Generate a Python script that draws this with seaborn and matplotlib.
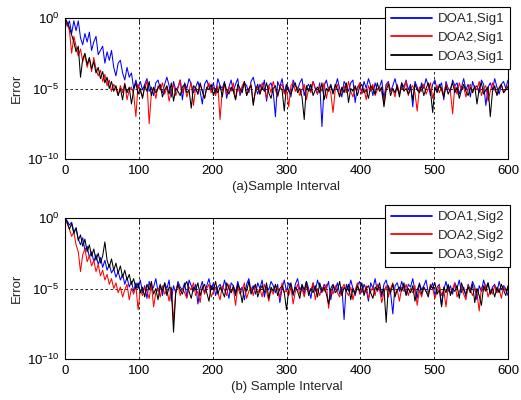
import numpy as np
import pandas as pd
import seaborn as sns
import matplotlib.pyplot as plt
from matplotlib.ticker import NullLocator

sns.set_style("white")
plt.rcParams['font.family'] = ['Liberation Sans', 'DejaVu Sans']
plt.rcParams['mathtext.fontset'] = 'custom'
plt.rcParams['mathtext.rm'] = 'Liberation Sans'
plt.rcParams['mathtext.it'] = 'Liberation Sans:italic'

# sample index (every 3rd sample)
samples = np.arange(0, 601, 3)

# log10(error) in tenths of a decade, panel (a)
doa1_sig1 = [0, -6, -2, -11, -2, -9, -2, -14, -19, -11, -17, -10, -23, -17, -13, -26, -23, -20, -32, -24,
             -30, -23, -35, -41, -32, -30, -39, -44, -35, -42, -39, -50, -44, -50,
             -45, -51, -47, -43, -52, -49, -55, -46, -44, -50,
             -53, -47, -42, -48, -56, -45, -51, -49, -44, -58,
             -46, -50, -43, -47, -53, -49, -45, -52, -61, -47,
             -44, -49, -51, -46, -54, -43, -48, -50, -45, -57,
             -49, -44, -52, -47, -43, -55, -50, -46, -48, -53,
             -45, -42, -49, -54, -47, -51, -44, -59, -48, -46,
             -52, -70, -45, -49, -43, -53, -47, -50, -56, -44,
             -48, -51, -46, -43, -55, -49, -47, -52, -45, -50,
             -54, -46, -77, -48, -44, -51, -47, -53, -49, -43,
             -50, -56, -45, -48, -52, -46, -44, -60, -49, -47,
             -53, -45, -50, -43, -48, -55, -46, -51, -49, -44,
             -57, -47, -45, -52, -48, -43, -50, -54, -46, -49,
             -44, -51, -47, -63, -45, -49, -53, -46, -50, -43,
             -48, -55, -47, -44, -51, -49, -46, -58, -45, -50,
             -52, -44, -48, -46, -54, -49, -43, -51, -47, -56,
             -45, -50, -48, -53, -44, -47, -62, -49, -46, -51,
             -43, -49, -54, -47, -45, -50, -44]
doa2_sig1 = [-1, -4, -9, -25, -13, -20, -27, -22, -31, -26, -35, -29, -38, -28, -36, -41, -37, -45, -40, -48,
             -44, -52, -47,
             -50, -55, -48, -53, -46, -58, -51, -49, -54, -70,
             -47, -52, -56, -49, -45, -75, -53, -50, -57, -48,
             -51, -46, -54, -49, -59, -52, -47, -55, -50, -44,
             -53, -48, -56, -51, -46, -62, -49, -54, -47, -52,
             -57, -50, -46, -53, -49, -55, -48, -72, -51, -47,
             -54, -49, -52, -46, -58, -50, -53, -48, -45, -55,
             -51, -47, -60, -52, -49, -54, -46, -50, -57, -48,
             -53, -45, -51, -56, -49, -47, -54, -50, -63, -48,
             -46, -52, -49, -55, -51, -47, -58, -50, -53, -45,
             -50, -54, -48, -52, -46, -57, -49, -53, -67, -51,
             -47, -55, -50, -48, -53, -45, -52, -56, -49, -51,
             -46, -54, -50, -58, -48, -52, -47, -55, -51, -49,
             -53, -61, -48, -46, -52, -50, -56, -47, -54, -49,
             -51, -45, -55, -50, -48, -53, -66, -49, -52, -47,
             -54, -50, -46, -57, -51, -48, -53, -49, -55, -47,
             -50, -52, -68, -48, -54, -46, -51, -49, -56, -50,
             -47, -53, -49, -51, -45, -55, -50, -48, -59, -52,
             -46, -51, -54, -49, -47, -53, -50, -48]
doa3_sig1 = [0, -3, -7, -12, -17, -24, -20, -42, -29, -25, -33, -28, -36, -31, -39, -35, -43, -38, -46, -42,
             -50, -45,
             -52, -48, -55, -50, -58, -47, -53, -49, -61, -51,
             -46, -54, -50, -57, -48, -52, -45, -55, -49, -53,
             -50, -47, -56, -51, -48, -54, -46, -59, -50, -52,
             -55, -49, -47, -53, -51, -64, -48, -50, -54, -46,
             -52, -57, -49, -51, -47, -55, -50, -53, -48, -56,
             -46, -51, -54, -49, -52, -58, -47, -50, -53, -45,
             -55, -50, -48, -62, -51, -47, -54, -49, -52, -46,
             -53, -57, -50, -48, -55, -49, -51, -66, -47, -52,
             -54, -49, -46, -53, -50, -56, -72, -48, -52, -47,
             -55, -51, -49, -53, -46, -58, -50, -52, -48, -54,
             -47, -51, -56, -49, -53, -46, -60, -50, -52, -48,
             -55, -49, -47, -53, -51, -57, -48, -50, -54, -46,
             -52, -49, -63, -51, -47, -55, -50, -53, -48, -56,
             -46, -52, -50, -54, -49, -58, -47, -51, -53, -48,
             -55, -50, -46, -52, -67, -49, -53, -47, -51, -56,
             -48, -54, -50, -46, -53, -49, -57, -51, -47, -52,
             -55, -49, -53, -48, -61, -50, -46, -54, -51, -49,
             -70, -52, -48, -55, -50, -47, -53, -51, -49]

# log10(error) in tenths of a decade, panel (b)
doa1_sig2 = [0, -2, -5, -3, -10, -7, -15, -19, -14, -23, -20, -28, -24, -31, -26, -33, -28, -35, -30, -37,
             -33, -39, -36, -42, -38, -44, -40, -47, -42, -49, -45, -52,
             -46, -50, -44, -53, -48, -57, -45, -51, -49, -43,
             -52, -47, -55, -46, -50, -44, -59, -48, -53, -45,
             -49, -51, -46, -56, -44, -48, -52, -47, -61, -50,
             -45, -53, -48, -43, -51, -46, -55, -49, -47, -52,
             -44, -50, -57, -46, -48, -53, -45, -51, -49, -58,
             -47, -43, -52, -48, -54, -46, -50, -44, -56, -49,
             -51, -45, -48, -53, -47, -60, -50, -44, -52, -46,
             -49, -55, -47, -43, -51, -48, -54, -45, -50, -57,
             -46, -52, -44, -49, -53, -47, -50, -45, -58, -48,
             -51, -46, -54, -49, -72, -47, -52, -44, -50, -55,
             -48, -45, -53, -47, -51, -59, -46, -50, -43, -52,
             -49, -56, -47, -44, -51, -53, -68, -48, -46, -52,
             -45, -50, -54, -47, -49, -43, -52, -57, -46, -51,
             -48, -44, -53, -50, -46, -55, -49, -47, -62, -51,
             -45, -52, -48, -54, -46, -50, -44, -53, -49, -56,
             -47, -51, -45, -49, -58, -48, -52, -44, -50, -46,
             -54, -49, -47, -53, -45, -51, -48, -50, -55]
doa2_sig2 = [-1, -4, -8, -13, -10, -19, -24, -38, -26, -22, -31, -27, -34, -30, -38, -33, -41, -37, -44, -40,
             -47, -43, -50, -46,
             -53, -49, -56, -51, -47, -58, -50, -54, -48, -65,
             -51, -55, -49, -52, -57, -47, -63, -53, -50, -56,
             -48, -54, -51, -59, -49, -73, -52, -47, -55, -50,
             -53, -57, -49, -51, -46, -55, -52, -60, -48, -54,
             -50, -47, -56, -52, -49, -53, -58, -48, -51, -55,
             -47, -53, -50, -62, -49, -54, -51, -46, -57, -52,
             -49, -55, -48, -53, -50, -56, -47, -52, -59, -51,
             -54, -48, -50, -57, -46, -53, -51, -55, -49, -61,
             -52, -47, -54, -50, -56, -48, -53, -51, -46, -58,
             -50, -55, -49, -52, -47, -64, -51, -54, -48, -53,
             -56, -50, -47, -52, -55, -49, -58, -51, -46, -54,
             -50, -53, -48, -57, -52, -49, -55, -47, -51, -60,
             -53, -48, -56, -50, -46, -54, -51, -59, -49, -52,
             -47, -55, -50, -53, -48, -62, -51, -56, -49, -52,
             -54, -47, -50, -57, -52, -48, -55, -51, -63, -49,
             -53, -50, -46, -56, -52, -49, -54, -58, -48, -51,
             -55, -50, -53, -66, -49, -52, -47, -56, -51, -54,
             -48, -53, -50, -57, -49, -52, -51]
doa3_sig2 = [0, -3, -8, -4, -11, -7, -16, -12, -20, -15, -24, -19, -27, -22, -30, -25, -32, -27, -17, -30,
             -35, -29, -37, -32, -39, -34, -42, -37, -44, -40, -47, -43, -50,
             -46, -53, -49, -56, -47, -51, -45, -54, -50, -58,
             -48, -52, -46, -55, -49, -50, -81, -53, -47, -51,
             -54, -48, -45, -52, -57, -49, -51, -46, -55, -50,
             -47, -53, -59, -48, -51, -45, -54, -49, -52, -56,
             -46, -50, -53, -48, -55, -47, -51, -60, -49, -52,
             -45, -54, -50, -47, -56, -51, -48, -53, -46, -57,
             -49, -52, -47, -55, -50, -48, -53, -65, -51, -46,
             -54, -49, -52, -57, -47, -51, -45, -55, -50, -53,
             -48, -56, -46, -52, -49, -54, -61, -50, -47, -53,
             -51, -45, -55, -49, -52, -47, -58, -50, -54, -48,
             -52, -46, -55, -50, -48, -53, -57, -49, -51, -46,
             -54, -50, -74, -48, -53, -47, -56, -51, -49, -52,
             -46, -55, -50, -53, -48, -59, -51, -47, -54, -49,
             -52, -56, -48, -50, -46, -54, -51, -63, -49, -53,
             -47, -55, -50, -52, -48, -57, -46, -51, -54, -49,
             -53, -47, -60, -50, -55, -62, -48, -52, -46, -54,
             -50, -56, -49, -53, -47, -51, -55, -48]

labels_a = ["DOA1,Sig1", "DOA2,Sig1", "DOA3,Sig1"]
labels_b = ["DOA1,Sig2", "DOA2,Sig2", "DOA3,Sig2"]
xlabels = ["(a)Sample Interval", "(b) Sample Interval"]
colors = ["#0000ff", "#ff0000", "#000000"]


def frame(series, labels):
    vals = np.concatenate([np.asarray(s, dtype=float) for s in series])
    return pd.DataFrame({
        "Sample": np.tile(samples, len(series)),
        "Error": 10.0 ** (vals / 10.0),
        "Series": np.repeat(labels, len(samples)),
    })


fig = plt.figure(figsize=(5.21, 4.0), dpi=100)
ax_a = fig.add_axes([65 / 521, 1 - 159 / 400, 443 / 521, 141 / 400])
ax_b = fig.add_axes([65 / 521, 1 - 359 / 400, 443 / 521, 141 / 400])

panels = [
    (ax_a, frame([doa1_sig1, doa2_sig1, doa3_sig1], labels_a), labels_a, xlabels[0], (510, 7)),
    (ax_b, frame([doa1_sig2, doa2_sig2, doa3_sig2], labels_b), labels_b, xlabels[1], (510, 205)),
]

for ax, df, labels, xlab, (lx, ly) in panels:
    sns.lineplot(data=df, x="Sample", y="Error", hue="Series", palette=colors,
                 estimator=None, sort=False, lw=0.75, ax=ax, legend=False)
    ax.set_yscale("log")
    ax.set_xlim(0, 600)
    ax.set_ylim(1e-10, 1)
    ax.set_xticks(range(0, 601, 100))
    ax.set_yticks([1e-10, 1e-5, 1])
    ax.set_yticklabels([r"$10^{-10}$", r"$10^{-5}$", r"$10^{0}$"])
    ax.yaxis.set_minor_locator(NullLocator())
    ax.set_axisbelow(True)
    ax.grid(True, which="major", ls=(0, (3, 3)), color="k", lw=0.6)
    ax.tick_params(direction="in", length=4.5, width=0.6, labelsize=9.5, pad=4,
                   top=True, right=True, colors="k")
    for sp in ax.spines.values():
        sp.set_color("k")
        sp.set_linewidth(0.8)
    ax.set_xlabel(xlab, fontsize=9.5, labelpad=3)
    ax.set_ylabel("Error", fontsize=9.5, labelpad=3)
    leg = ax.legend(ax.lines[:3], labels, loc="upper right",
                    bbox_to_anchor=(lx / 521, 1 - ly / 400), bbox_transform=fig.transFigure,
                    borderaxespad=0, fancybox=False, framealpha=1, edgecolor="k",
                    fontsize=9.5, handlelength=3.1, handletextpad=0.4,
                    labelspacing=0.5, borderpad=0.45)
    leg.get_frame().set_linewidth(0.8)
    for ln in leg.get_lines():
        ln.set_linewidth(1.3)

fig.savefig("out.png", dpi=100)
